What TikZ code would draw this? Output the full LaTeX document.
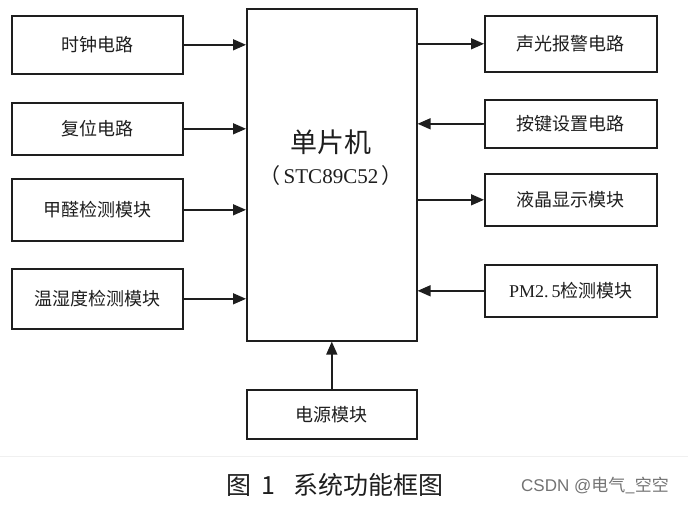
\documentclass[tikz,border=0pt]{standalone}
\usepackage{fontspec}
\setmainfont{Noto Sans CJK SC}
\newfontfamily\cjk{Noto Sans CJK SC}
\newfontfamily\lat{Liberation Serif}
\newfontfamily\wm{Liberation Sans}
\usetikzlibrary{arrows.meta}
\definecolor{ink}{HTML}{1E1E1E}
\tikzset{
  blk/.style={draw=ink, line width=1.6pt, inner sep=0pt, anchor=north west},
  lbl/.style={text=ink, font=\cjk\fontsize{18}{21}\selectfont},
  link/.style={draw=ink, line width=1.5pt, -{Triangle[length=13pt,width=11pt]}},
}
\begin{document}
\begin{tikzpicture}[x=1pt,y=-1pt]
\useasboundingbox[fill=white] (0,0) rectangle (688,504);
% processor
\node[blk, minimum width=170pt, minimum height=332pt] (mcu) at (246,8) {};
\node[text=ink, font=\cjk\fontsize{27}{30}\selectfont] (mcut) at (331,142) {单片机};
\node[text=ink, font=\cjk\fontsize{21}{24}\selectfont] (mcus) at (331,176) {（\,{\lat STC89C52}\,）};
% left inputs
\node[blk, minimum width=171pt, minimum height=58pt] (clk) at (11,15) {};
\node[lbl] at (clk.center) {时钟电路};
\node[blk, minimum width=171pt, minimum height=52pt] (rst) at (11,102) {};
\node[lbl] at (rst.center) {复位电路};
\node[blk, minimum width=171pt, minimum height=62pt] (hcho) at (11,178) {};
\node[lbl] at (hcho.center) {甲醛检测模块};
\node[blk, minimum width=171pt, minimum height=60pt] (th) at (11,268) {};
\node[lbl] at (th.center) {温湿度检测模块};
% right side
\node[blk, minimum width=172pt, minimum height=56pt] (alarm) at (484,15) {};
\node[lbl] at (alarm.center) {声光报警电路};
\node[blk, minimum width=172pt, minimum height=48pt] (key) at (484,99) {};
\node[lbl] at (key.center) {按键设置电路};
\node[blk, minimum width=172pt, minimum height=52pt] (lcd) at (484,173) {};
\node[lbl] at (lcd.center) {液晶显示模块};
\node[blk, minimum width=172pt, minimum height=52pt] (pm) at (484,264) {};
\node[lbl] at (pm.center) {{\lat PM2.\,5}检测模块};
% power
\node[blk, minimum width=170pt, minimum height=49pt] (pwr) at (246,389) {};
\node[lbl] at (pwr.center) {电源模块};
% connectors
\draw[link] (clk.east) -- (clk.east -| mcu.west);
\draw[link] (rst.east) -- (rst.east -| mcu.west);
\draw[link] (hcho.east) -- (hcho.east -| mcu.west);
\draw[link] (th.east) -- (th.east -| mcu.west);
\draw[link] (alarm.west -| mcu.east) -- (alarm.west);
\draw[link] (key.west) -- (key.west -| mcu.east);
\draw[link] (lcd.west -| mcu.east) -- (lcd.west);
\draw[link] (pm.west) -- (pm.west -| mcu.east);
\draw[link] (pwr.north) -- (pwr.north |- mcu.south);
% page edge
\coordinate (e1) at (0,456);
\coordinate (e2) at (688,456);
\draw[gray!12, line width=0.8pt] (e1) -- (e2);
% caption and credit
\node[text=ink, font=\cjk\fontsize{25}{29}\selectfont] (cap) at (335,485) {图\hspace{0.4em}1\hspace{0.7em}系统功能框图};
\node[text=black!55, font=\cjk\fontsize{17}{20}\selectfont] (credit) at (595,485) {{\wm CSDN @}电气\_空空};
\end{tikzpicture}
\end{document}
